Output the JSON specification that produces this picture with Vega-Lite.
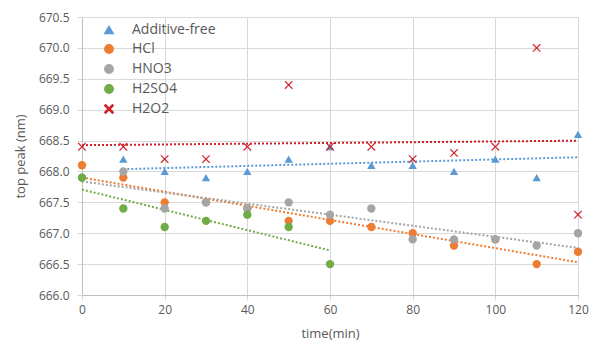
{
  "$schema": "https://vega.github.io/schema/vega-lite/v6.json",
  "width": 496,
  "height": 278,
  "autosize": {"type": "none"},
  "padding": {"left": 82, "top": 17, "right": 13, "bottom": 47},
  "background": "white",
  "config": {
    "font": "Open Sans",
    "view": {"stroke": null},
    "axis": {"gridColor": "#D9D9D9", "domainColor": "#BFBFBF", "labelColor": "#595959", "titleColor": "#595959", "labelFontSize": 12, "titleFontSize": 13, "titleFontWeight": "normal", "ticks": true, "tickColor": "#D9D9D9", "tickSize": 5, "labelOverlap": false, "labelFlush": false}
  },
  "data": {"values": [
    {"series": "Additive-free", "time": 10, "peak": 668.2},
    {"series": "Additive-free", "time": 20, "peak": 668.0},
    {"series": "Additive-free", "time": 30, "peak": 667.9},
    {"series": "Additive-free", "time": 40, "peak": 668.0},
    {"series": "Additive-free", "time": 50, "peak": 668.2},
    {"series": "Additive-free", "time": 60, "peak": 668.4},
    {"series": "Additive-free", "time": 70, "peak": 668.1},
    {"series": "Additive-free", "time": 80, "peak": 668.1},
    {"series": "Additive-free", "time": 90, "peak": 668.0},
    {"series": "Additive-free", "time": 100, "peak": 668.2},
    {"series": "Additive-free", "time": 110, "peak": 667.9},
    {"series": "Additive-free", "time": 120, "peak": 668.6},
    {"series": "HCl", "time": 0, "peak": 668.1},
    {"series": "HCl", "time": 10, "peak": 667.9},
    {"series": "HCl", "time": 20, "peak": 667.5},
    {"series": "HCl", "time": 30, "peak": 667.5},
    {"series": "HCl", "time": 40, "peak": 667.4},
    {"series": "HCl", "time": 50, "peak": 667.2},
    {"series": "HCl", "time": 60, "peak": 667.2},
    {"series": "HCl", "time": 70, "peak": 667.1},
    {"series": "HCl", "time": 80, "peak": 667.0},
    {"series": "HCl", "time": 90, "peak": 666.8},
    {"series": "HCl", "time": 100, "peak": 666.9},
    {"series": "HCl", "time": 110, "peak": 666.5},
    {"series": "HCl", "time": 120, "peak": 666.7},
    {"series": "HNO3", "time": 0, "peak": 667.9},
    {"series": "HNO3", "time": 10, "peak": 668.0},
    {"series": "HNO3", "time": 20, "peak": 667.4},
    {"series": "HNO3", "time": 30, "peak": 667.5},
    {"series": "HNO3", "time": 40, "peak": 667.4},
    {"series": "HNO3", "time": 50, "peak": 667.5},
    {"series": "HNO3", "time": 60, "peak": 667.3},
    {"series": "HNO3", "time": 70, "peak": 667.4},
    {"series": "HNO3", "time": 80, "peak": 666.9},
    {"series": "HNO3", "time": 90, "peak": 666.9},
    {"series": "HNO3", "time": 100, "peak": 666.9},
    {"series": "HNO3", "time": 110, "peak": 666.8},
    {"series": "HNO3", "time": 120, "peak": 667.0},
    {"series": "H2SO4", "time": 0, "peak": 667.9},
    {"series": "H2SO4", "time": 10, "peak": 667.4},
    {"series": "H2SO4", "time": 20, "peak": 667.1},
    {"series": "H2SO4", "time": 30, "peak": 667.2},
    {"series": "H2SO4", "time": 40, "peak": 667.3},
    {"series": "H2SO4", "time": 50, "peak": 667.1},
    {"series": "H2SO4", "time": 60, "peak": 666.5},
    {"series": "H2O2", "time": 0, "peak": 668.4},
    {"series": "H2O2", "time": 10, "peak": 668.4},
    {"series": "H2O2", "time": 20, "peak": 668.2},
    {"series": "H2O2", "time": 30, "peak": 668.2},
    {"series": "H2O2", "time": 40, "peak": 668.4},
    {"series": "H2O2", "time": 50, "peak": 669.4},
    {"series": "H2O2", "time": 60, "peak": 668.4},
    {"series": "H2O2", "time": 70, "peak": 668.4},
    {"series": "H2O2", "time": 80, "peak": 668.2},
    {"series": "H2O2", "time": 90, "peak": 668.3},
    {"series": "H2O2", "time": 100, "peak": 668.4},
    {"series": "H2O2", "time": 110, "peak": 670.0},
    {"series": "H2O2", "time": 120, "peak": 667.3}
  ]},
  "encoding": {
    "x": {"field": "time", "type": "quantitative", "title": "time(min)",
          "scale": {"domain": [0, 120], "nice": false, "padding": 0},
          "axis": {"values": [0, 20, 40, 60, 80, 100, 120], "labelPadding": 4, "titlePadding": 12}},
    "y": {"field": "peak", "type": "quantitative", "title": "top peak (nm)",
          "scale": {"domain": [666, 670.5], "nice": false, "zero": false, "padding": 0},
          "axis": {"values": [666, 666.5, 667, 667.5, 668, 668.5, 669, 669.5, 670, 670.5], "format": ".1f", "labelPadding": 8, "titlePadding": 11}},
    "color": {"field": "series", "type": "nominal",
              "scale": {"domain": ["Additive-free", "HCl", "HNO3", "H2SO4", "H2O2"], "range": ["#5B9BD5", "#ED7D31", "#A5A5A5", "#70AD47", "#D0202A"]},
              "legend": {"title": null, "orient": "none", "legendX": 20, "legendY": 6, "labelFontSize": 14, "labelColor": "#595959", "symbolSize": 70, "rowPadding": 4, "labelOffset": 16}}
  },
  "layer": [
    {
      "transform": [{"regression": "peak", "on": "time", "groupby": ["series"]}],
      "mark": {"type": "line", "strokeDash": [2, 2], "strokeWidth": 2}
    },
    {
      "mark": {"type": "point", "filled": true, "opacity": 1, "size": 70},
      "encoding": {
        "shape": {"field": "series", "type": "nominal",
                  "scale": {"domain": ["Additive-free", "HCl", "HNO3", "H2SO4", "H2O2"], "range": ["triangle-up", "circle", "circle", "circle", "M-1,-0.8L-0.8,-1L0,-0.2L0.8,-1L1,-0.8L0.2,0L1,0.8L0.8,1L0,0.2L-0.8,1L-1,0.8L-0.2,0Z"]},
                  "legend": {"title": null, "orient": "none", "legendX": 20, "legendY": 6, "labelFontSize": 14, "labelColor": "#595959", "symbolSize": 70, "rowPadding": 4, "labelOffset": 16}}
      }
    }
  ]
}
